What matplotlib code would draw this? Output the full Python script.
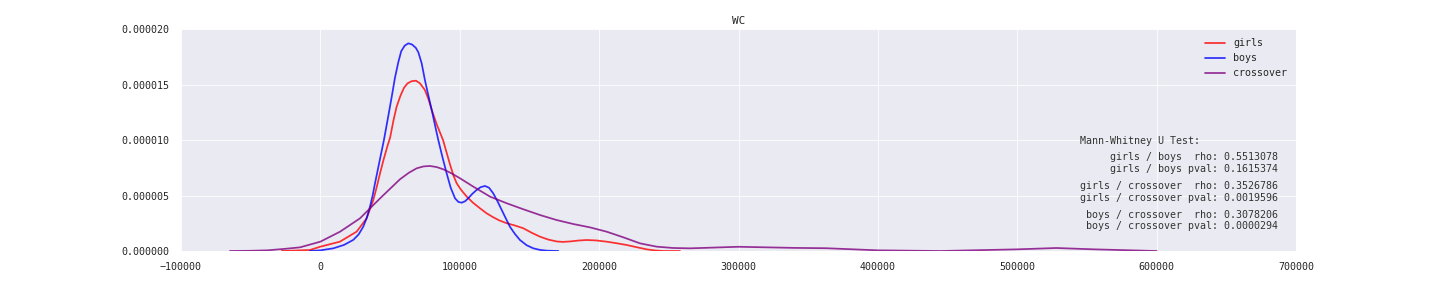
import matplotlib
matplotlib.use("Agg")
import matplotlib.pyplot as plt
import seaborn as sns
from matplotlib.ticker import FormatStrFormatter

# density curves (x in WC units, y = density)
girls_x = [-27800, -7500, 0, 14000, 26000, 33200, 38000, 40500, 42800, 45500, 48000,
           50000, 52500, 54700, 57500, 60000, 62500, 65500, 68600, 71500, 75000,
           77500, 79900, 83500, 88000, 90500, 93000, 95500, 97800, 101000, 105000,
           109500, 114500, 119000, 124000, 128500, 133700, 139500, 145600, 151500,
           157600, 163500, 169500, 174000, 179100, 185000, 191100, 198000, 205400,
           212500, 219800, 227000, 234100, 240000, 246000, 258000]
girls_y = [0.0, 0.09e-6, 0.39e-6, 0.84e-6, 1.74e-6, 2.94e-6, 4.6e-6, 5.8e-6, 7.0e-6,
           8.3e-6, 9.4e-6, 10.2e-6, 11.8e-6, 13.0e-6, 14.0e-6, 14.7e-6, 15.1e-6,
           15.3e-6, 15.34e-6, 15.1e-6, 14.5e-6, 13.7e-6, 12.7e-6, 11.4e-6, 10.0e-6,
           8.9e-6, 7.8e-6, 6.8e-6, 6.1e-6, 5.5e-6, 4.9e-6, 4.35e-6, 3.85e-6,
           3.42e-6, 3.04e-6, 2.75e-6, 2.5e-6, 2.3e-6, 2.05e-6, 1.65e-6, 1.29e-6,
           1.03e-6, 0.86e-6, 0.82e-6, 0.86e-6, 0.94e-6, 0.99e-6, 0.95e-6, 0.84e-6,
           0.7e-6, 0.54e-6, 0.34e-6, 0.15e-6, 0.05e-6, 0.0, 0.0]

boys_x = [-7500, 0, 9300, 17000, 23600, 27500, 30800, 33300, 35600, 37500, 39200,
          41000, 42800, 45600, 48500, 51200, 53500, 55900, 58000, 60500, 63100,
          65800, 68500, 70300, 72700, 75000, 77500, 79900, 82300, 84600, 87500,
          90600, 93500, 96600, 99000, 101400, 103800, 106100, 109000, 112100, 115000,
          118100, 121000, 124000, 127000, 130100, 133000, 136000, 139500, 143200,
          148000, 152800, 157500, 162400, 170700]
boys_y = [0.0, 0.06e-6, 0.24e-6, 0.55e-6, 1.0e-6, 1.5e-6, 2.2e-6, 3.0e-6, 4.0e-6,
          5.0e-6, 6.1e-6, 7.2e-6, 8.3e-6, 10.0e-6, 12.0e-6, 13.9e-6, 15.6e-6,
          17.0e-6, 18.0e-6, 18.5e-6, 18.71e-6, 18.6e-6, 18.3e-6, 17.9e-6, 16.9e-6,
          15.4e-6, 14.0e-6, 12.7e-6, 11.3e-6, 10.0e-6, 8.5e-6, 7.0e-6, 5.7e-6,
          4.75e-6, 4.42e-6, 4.35e-6, 4.48e-6, 4.75e-6, 5.15e-6, 5.5e-6, 5.75e-6,
          5.86e-6, 5.7e-6, 5.2e-6, 4.5e-6, 3.7e-6, 2.95e-6, 2.19e-6, 1.55e-6,
          0.99e-6, 0.52e-6, 0.24e-6, 0.1e-6, 0.03e-6, 0.0]

cross_x = [-64900, -50000, -38000, -25000, -14600, 0, 14100, 28400, 42800, 57100,
           63500, 69100, 74000, 78600, 83500, 88200, 94000, 100200, 109700, 121700,
           133700, 145600, 157600, 169500, 181500, 193400, 205400, 217400, 229300,
           241300, 253200, 265200, 300000, 340000, 363000, 400000, 445000, 500000,
           528000, 555000, 600000]
cross_y = [0.0, 0.02e-6, 0.06e-6, 0.2e-6, 0.33e-6, 0.84e-6, 1.74e-6, 2.94e-6,
           4.74e-6, 6.46e-6, 7.05e-6, 7.45e-6, 7.62e-6, 7.66e-6, 7.56e-6, 7.36e-6,
           7.0e-6, 6.55e-6, 5.8e-6, 4.9e-6, 4.3e-6, 3.76e-6, 3.24e-6, 2.79e-6,
           2.43e-6, 2.13e-6, 1.74e-6, 1.23e-6, 0.69e-6, 0.39e-6, 0.27e-6, 0.24e-6,
           0.38e-6, 0.28e-6, 0.25e-6, 0.06e-6, 0.0, 0.15e-6, 0.27e-6, 0.15e-6, 0.0]

tests = [("girls / boys", 0.5513078, 0.1615374),
         ("girls / crossover", 0.3526786, 0.0019596),
         ("boys / crossover", 0.3078206, 0.0000294)]

sns.set_style("darkgrid")
plt.rcParams['font.family'] = ['DejaVu Sans Mono']
plt.rcParams['font.size'] = 10

fig = plt.figure(figsize=(20, 4), dpi=72)
ax = fig.add_axes([181 / 1440, 37 / 288, 1115 / 1440, 222 / 288])

ax.plot(girls_x, girls_y, color='red', alpha=0.8, lw=1.75, label='girls')
ax.plot(boys_x, boys_y, color='blue', alpha=0.8, lw=1.75, label='boys')
ax.plot(cross_x, cross_y, color='purple', alpha=0.8, lw=1.75, label='crossover')

ax.set_xlim(-100000, 700000)
ax.set_ylim(0, 2e-5)
ax.set_xticks(range(-100000, 700001, 100000))
ax.set_yticks([0, 5e-6, 1e-5, 1.5e-5, 2e-5])
ax.yaxis.set_major_formatter(FormatStrFormatter('%.6f'))
ax.tick_params(axis='y', pad=8, labelsize=10)
ax.tick_params(axis='x', pad=7, labelsize=10)
ax.set_title('WC', fontsize=11, pad=5)

ax.legend(loc='upper right', frameon=False, fontsize=10, handlelength=2)

ax.text(0.806, 0.495, "Mann-Whitney U Test:", transform=ax.transAxes,
        ha='left', va='center', fontsize=10, color='#333333')
block_y = [0.396, 0.266, 0.137]
for (name, rho, pval), yy in zip(tests, block_y):
    s = "%s  rho: %.7f\n%s pval: %.7f" % (name, rho, name, pval)
    ax.text(0.984, yy, s, transform=ax.transAxes, ha='right', va='center',
            multialignment='right', fontsize=10, color='#333333', linespacing=1.15)

fig.savefig('out.png', dpi=72)
